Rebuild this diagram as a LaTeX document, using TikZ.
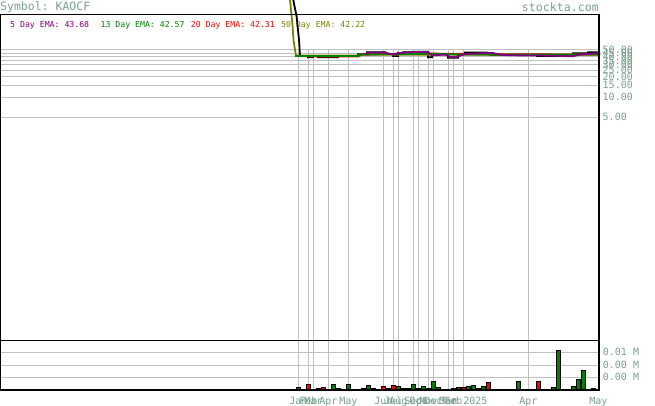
\documentclass[tikz,border=0pt]{standalone}
\usepackage{fontspec}
\setmonofont{DejaVu Sans Mono}
\usepackage{tikz}
\usetikzlibrary{positioning}

\definecolor{axisgray}{RGB}{122,160,140}
\definecolor{gridgray}{RGB}{192,192,192}
\definecolor{emapurple}{RGB}{128,0,128}
\definecolor{emagreen}{RGB}{0,128,0}
\definecolor{emared}{RGB}{255,0,0}
\definecolor{emaolive}{RGB}{128,128,0}

\begin{document}
\begin{tikzpicture}[x=1pt, y=-1pt,
    axislabel/.style={font=\ttfamily\fontsize{10}{10}\selectfont, text=axisgray, inner sep=0pt},
    legend/.style={font=\ttfamily\fontsize{8.2}{8.2}\selectfont, inner sep=0pt},
    gridline/.style={draw=gridgray, line width=1pt},
    emaline/.style={line width=1.8pt, line join=miter},
    volbar/.style={draw=black, line width=0.9pt}]
        \useasboundingbox (0,0) rectangle (655,406);

        % Header
        \node[font=\ttfamily\fontsize{11.5}{11.5}\selectfont, text=axisgray, inner sep=0pt, anchor=west] (symbol) at (0,7) {Symbol: KAOCF};
        \node[font=\ttfamily\fontsize{11.6}{11.6}\selectfont, text=axisgray, inner sep=0pt, anchor=east] (site) at (599,7) {stockta.com};

        % Grid
        \foreach \p in {5,10,15,20,25,30,35,40,45,50} {
            \pgfmathsetmacro\yy{117.3-29.23*ln(\p/5)}
            \draw[gridline] (0,\yy) -- (600,\yy);
            \node[axislabel, anchor=west] (price\p) at (602.5,\yy) {\p.00};
        }
        \foreach \yy in {352.7,365,377.3}
            \draw[gridline] (0,\yy) -- (600,\yy);
        \foreach \x in {298.3,308.3,313.3,328.3,348.3,383.3,393.3,398.3,413.3,418.3,428.3,433.3,448.3,453.3,463.3,528.3,598.3}
            \draw[gridline] (\x,50) -- (\x,390);

        % Legend
        \node[legend, text=emapurple, anchor=west] (ema5) at (10,25) {5 Day EMA: 43.68};
        \node[legend, text=emagreen, right=11pt of ema5] (ema13) {13 Day EMA: 42.57};
        \node[legend, text=emared, right=6pt of ema13] (ema20) {20 Day EMA: 42.31};
        \node[legend, text=emaolive, right=6pt of ema20] (ema50) {50 Day EMA: 42.22};

        % Price and averages
        \draw[emaline, black] (293.3,0) -- (296.7,17) -- (299,40) -- (300,56) -- (308,56) -- (308,57.3) -- (313,57.3) -- (313,56) -- (318,56) -- (318,57.3) -- (338,57.3) -- (338,56) -- (358,56) -- (358,54.3) -- (367,54.3) -- (367,52.3) -- (385,52.3) -- (385,54) -- (393,54) -- (393,56) -- (398,56) -- (398,53) -- (403,53) -- (403,52.3) -- (413,52.3) -- (413,51.7) -- (428,51.7) -- (428,57.3) -- (432,57.3) -- (432,54.3) -- (448,54.3) -- (448,57.7) -- (458,57.7) -- (458,53.7) -- (465,53.7) -- (465,52.5) -- (487,52.5) -- (490,55) -- (537,55) -- (537,56) -- (573,56) -- (573,53.3) -- (588,53.3) -- (588,52.3) -- (600,52.3);
        \draw[emaline, emaolive] (290,0) -- (291,10) -- (292.5,25) -- (293.5,40) -- (295,50) -- (296,55.5) -- (358,55.5) -- (362,54.8) -- (600,54.8);
        \draw[emaline, emared] (296,56) -- (318,56.5) -- (358,56.5) -- (362,54.5) -- (400,53.8) -- (430,53.5) -- (460,54) -- (500,54.3) -- (600,54.5);
        \draw[emaline, emagreen] (295,56) -- (358,56) -- (362,54.5) -- (413,54) -- (430,53.7) -- (460,54.5) -- (600,54.5);
        \draw[emaline, emapurple] (365,54) -- (370,52.5) -- (385,52.5) -- (393,54.5) -- (400,53) -- (413,52) -- (428,52) -- (432,55.5) -- (445,54.5) -- (450,57) -- (456,57) -- (465,54) -- (487,53) -- (493,53) -- (500,54.5) -- (508,55.3) -- (540,55.5) -- (573,56.3) -- (580,54.5) -- (600,53);

        % Volume
        \foreach \x/\t/\c in {296/387.3/emagreen, 306/384/emared, 316/388.3/emared, 321/387.3/emared, 331/384/emagreen, 336/388.3/emagreen, 346/384/emagreen,
            361/388.3/emared, 366/385/emagreen, 371/388.3/emared, 381/386/emared, 386/388.3/emared, 391/385/emared, 396/386.7/emagreen, 401/388.3/emagreen,
            406/388.3/emared, 411/384/emagreen, 416/388.3/emared, 421/386/emagreen, 426/388.3/emared, 431/381/emagreen, 436/387.3/emagreen,
            451/388.3/emagreen, 456/387.3/emagreen, 461/387.3/emared, 466/386/emagreen, 471/385/emagreen, 476/388.3/emared, 481/386/emagreen, 486/382/emared,
            516/381/emagreen, 536/381/emared, 551/387.3/emagreen, 556/350/emagreen, 571/386/emagreen, 576/379/emagreen, 581/370/emagreen, 591/388.3/emagreen}
            \draw[volbar, fill=\c] (\x,390) rectangle (\x+4.7,\t);
        \node[axislabel, anchor=west] (vol1) at (602.7,351.7) {0.01 M};
        \node[axislabel, anchor=west] (vol2) at (602.7,364.7) {0.00 M};
        \node[axislabel, anchor=west] (vol3) at (602.7,377) {0.00 M};

        % Frame
        \draw[line width=1pt] (0,15) -- (600,15);
        \draw[line width=1pt] (0.5,15) -- (0.5,390);
        \draw[line width=1pt] (0,340) -- (600,340);
        \draw[line width=2pt] (599,15) -- (599,390);
        \draw[line width=2pt] (0,389.5) -- (600,389.5);

        % Dates
        \foreach \x/\m [count=\i] in {298.3/Jan, 308.3/Feb, 313.3/Mar, 328.3/Apr, 348.3/May, 383.3/Jun, 393.3/Jul, 398.3/Aug, 413.3/Sep, 418.3/Oct, 428.3/Nov,
            433.3/Dec, 448.3/Jan, 453.3/Feb, 463.3/Mar 2025, 528.3/Apr, 598.3/May}
            \node[axislabel, anchor=base] (date\i) at (\x,404) {\m};
    \end{tikzpicture}
\end{document}
